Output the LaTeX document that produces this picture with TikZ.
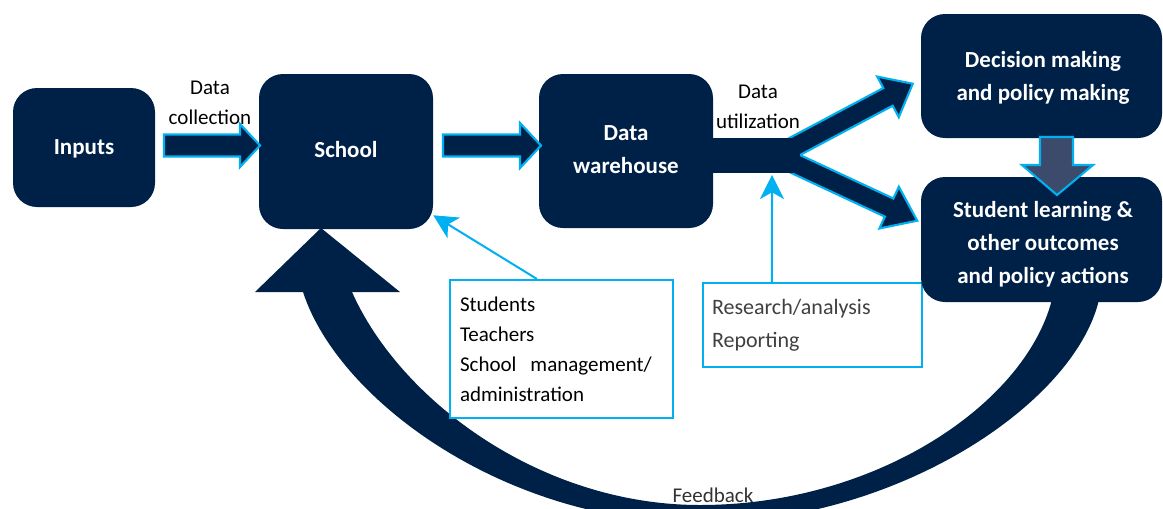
\documentclass[tikz,border=0pt]{standalone}
\usepackage{fontspec}
\setmainfont{Carlito}
\usetikzlibrary{arrows.meta,calc}
\definecolor{navy}{HTML}{002147}
\definecolor{cyanb}{HTML}{00B0F0}
\definecolor{darrow}{HTML}{3C4A6B}
\definecolor{graytxt}{HTML}{404040}
\begin{document}
\begin{tikzpicture}[x=0.75pt,y=-0.75pt,
  box/.style={fill=navy, rounded corners=18pt, text=white,
    font=\bfseries\fontsize{17.25}{24.75}\selectfont, align=center, inner sep=0pt},
  boxtext/.style={text=white, font=\bfseries\fontsize{17.25}{24.75}\selectfont, align=center, inner sep=0pt},
  blk/.style={fill=navy, draw=cyanb, line width=1.6pt, line join=miter},
  lbl/.style={font=\fontsize{15.75}{22.5}\selectfont, align=center, inner sep=0pt},
  notebox/.style={draw=cyanb, line width=1.5pt, fill=white, align=left},
  thinarr/.style={draw=cyanb, line width=1.5pt, -{Stealth[length=18pt,width=18pt,inset=5pt]}}
]
\useasboundingbox (0,0) rectangle (1163,508);
\clip (0,0) rectangle (1163,508);

% feedback band
\fill[navy] (303,292) .. controls (338,400) and (505,523) .. (700,523)
  .. controls (900,523) and (1080,400) .. (1100,295)
  -- (1053,295) .. controls (1030,400) and (880,505) .. (700,505)
  .. controls (540,505) and (400,400) .. (352,292)
  -- (400,292) -- (321,228) -- (255,292) -- cycle;

% boxes
\node[box, minimum width=106.5pt, minimum height=89.25pt] (inputs) at (84,147.5) {};
\node[boxtext] (inputst) at (84,149) {Inputs};
\node[box, minimum width=130.5pt, minimum height=116.25pt] (school) at (346,151.5) {};
\node[boxtext] (schoolt) at (346,150) {School};
\node[box, minimum width=130.5pt, minimum height=115.5pt] (wh) at (626,151) {};
\node[boxtext] (wht) at (626,150) {Data\\warehouse};
\node[box, minimum width=180.75pt, minimum height=93pt] (dec) at (1041.5,76) {};
\node[boxtext] (dect) at (1043,77.5) {Decision making\\and policy making};

% note boxes
\node[notebox, minimum width=167.25pt, minimum height=103.5pt, text width=152.25pt,
  inner xsep=7.5pt, font=\fontsize{15.75}{22.5}\selectfont] (stud) at (561.5,349)
  {Students\\Teachers\\School\ \ management/\\administration};
\node[notebox, minimum width=164.25pt, minimum height=63pt, text width=150.75pt,
  inner xsep=6.75pt, text=graytxt, font=\fontsize{16.5}{24.75}\selectfont] (res) at (812.5,325)
  {Research/analysis\\Reporting};

\node[box, minimum width=180.75pt, minimum height=93.75pt] (stu) at (1041.5,239.5) {};
\node[boxtext] (stut) at (1043,244) {Student learning \&\\other outcomes\\and policy actions};

% straight block arrows
\draw[blk] (164,134.5) -- (240,134.5) -- (240,124) -- (260,145.5) -- (240,167) -- (240,156.5) -- (164,156.5) -- cycle;
\draw[blk] (443,134.5) -- (520,134.5) -- (520,123) -- (541,145.5) -- (520,168) -- (520,156.5) -- (443,156.5) -- cycle;

% fork arrow
\begin{scope}[shift={(800,155)}, rotate=28]
  \draw[blk] (-20,-20) -- (105,-20) -- (105,-33) -- (133,-10) -- (105,13) -- (105,0) -- (-20,0) -- cycle;
\end{scope}
\begin{scope}[shift={(800,155)}, rotate=-25]
  \draw[blk] (-20,0) -- (103,0) -- (103,-13) -- (134,10) -- (103,33) -- (103,20) -- (-20,20) -- cycle;
\end{scope}
\fill[navy] (705,137.5) rectangle (800,173);
\coordinate (forkbot) at (772,175);

% down arrow
\draw[fill=darrow, draw=cyanb, line width=1.6pt] (1040,137) -- (1073,137) -- (1073,165) -- (1093,165)
  -- (1057,195) -- (1022,165) -- (1040,165) -- cycle;

% thin arrows
\draw[thinarr] ([xshift=-18.4pt]stud.north) -- ([yshift=10.5pt]school.south east);
\draw[thinarr] ([xshift=-30.4pt]res.north) -- (forkbot);

% labels
\node[lbl] (dc) at (210,103) {Data\\collection};
\node[lbl] (du) at (758,106.5) {Data\\utilization};
\node[lbl, text=graytxt!80!black] (fb) at (713,495) {Feedback};
\end{tikzpicture}
\end{document}
